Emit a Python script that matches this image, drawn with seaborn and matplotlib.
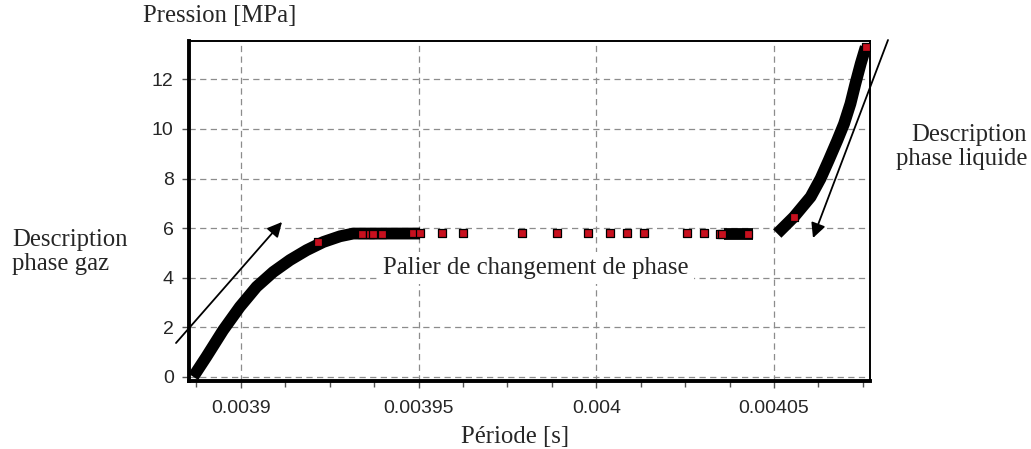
import numpy as np
import pandas as pd
import matplotlib
matplotlib.use("Agg")
import matplotlib.pyplot as plt
import seaborn as sns
from matplotlib.ticker import MultipleLocator

# ---- data ----
# gas phase curve (dense points -> black band), ends on the plateau
gas_t = [0.0038866, 0.0038903, 0.0038950, 0.0038997, 0.0039044, 0.0039091,
         0.0039138, 0.0039185, 0.0039232, 0.0039279, 0.0039316, 0.0039504]
gas_p = [0.0, 0.81, 1.88, 2.82, 3.63, 4.23, 4.71, 5.11, 5.44, 5.67, 5.78, 5.78]

# dense segment at the end of the plateau
dense_t = [0.0040360, 0.0040440]
dense_p = [5.78, 5.78]

# liquid phase curve
liq_t = [0.0040509, 0.0040556, 0.0040603, 0.0040631, 0.0040654, 0.0040678,
         0.0040697, 0.0040715, 0.0040729, 0.0040744, 0.0040758]
liq_p = [5.78, 6.45, 7.26, 8.0, 8.74, 9.54, 10.21, 11.02, 11.83, 12.64, 13.31]

# isolated / visible red points
pts_t = [0.0039217, 0.0039341, 0.0039363, 0.0039372, 0.0039397,
         0.0039485, 0.0039504, 0.0039566, 0.0039625, 0.0039792, 0.0039890,
         0.0039977, 0.0040039, 0.0040087, 0.0040135, 0.0040256, 0.0040304,
         0.0040348, 0.0040353, 0.0040428, 0.0040556, 0.0040758]
pts_p = [5.44, 5.78, 5.78, 5.78, 5.78,
         5.8, 5.8, 5.8, 5.8, 5.8, 5.8,
         5.8, 5.8, 5.8, 5.8, 5.8, 5.8,
         5.78, 5.78, 5.78, 6.45, 13.31]

y_ticks = [0, 2, 4, 6, 8, 10, 12]
x_ticks = [0.0039, 0.00395, 0.004, 0.00405]
x_tick_labels = ["0.0039", "0.00395", "0.004", "0.00405"]

W, H = 1031, 449
sns.set_style("white")
plt.rcParams["font.family"] = ["Liberation Serif", "DejaVu Serif"]

fig = plt.figure(figsize=(W / 100, H / 100), dpi=100)
ax = fig.add_axes([189 / W, 1 - 381 / H, (870 - 189) / W, (381 - 41) / H])

gas = pd.DataFrame({"t": gas_t, "p": gas_p})
dense = pd.DataFrame({"t": dense_t, "p": dense_p})
liq = pd.DataFrame({"t": liq_t, "p": liq_p})
pts = pd.DataFrame({"t": pts_t, "p": pts_p})

for d in (gas, dense, liq):
    sns.lineplot(data=d, x="t", y="p", ax=ax, sort=False, estimator=None,
                 color="black", linewidth=8.5, solid_capstyle="butt",
                 solid_joinstyle="round", zorder=3)
sns.scatterplot(data=pts, x="t", y="p", ax=ax, marker="s", s=40,
                color="#c8101e", edgecolor="black", linewidth=0.9, zorder=4)

ax.set_xlim(0.0038854, 0.004077)
ax.set_ylim(-0.17, 13.55)
ax.set_xticks(x_ticks)
ax.set_xticklabels(x_tick_labels)
ax.set_yticks(y_ticks)
ax.xaxis.set_minor_locator(MultipleLocator(0.0000125))

ax.grid(True, which="major", color="#8c8c8c", linewidth=0.9,
        linestyle=(0, (5, 3.5)))
ax.set_axisbelow(True)

for lab in ax.get_xticklabels() + ax.get_yticklabels():
    lab.set_family(["Liberation Sans", "DejaVu Sans"])
    lab.set_fontsize(14)
    lab.set_color("#262626")
ax.tick_params(axis="both", which="major", direction="out", length=5,
               width=1, color="#555555", bottom=True, left=True)
ax.tick_params(axis="x", which="major", pad=9)
ax.tick_params(axis="y", which="major", pad=6)
ax.tick_params(axis="x", which="minor", direction="out", length=4,
               width=1, color="#555555", bottom=True)

ax.spines["left"].set_linewidth(2.8)
ax.spines["bottom"].set_linewidth(2.8)
ax.spines["top"].set_linewidth(1.4)
ax.spines["right"].set_linewidth(1.4)
for s in ax.spines.values():
    s.set_color("black")
    s.set_visible(True)

ax.set_xlabel("Période [s]", fontsize=17.8)
ax.xaxis.set_label_coords((515 - 189) / 681, (381 - 437) / 340)
ax.xaxis.label.set_va("center")
ax.set_ylabel("Pression [MPa]", fontsize=17.8, rotation=0, ha="left", va="center")
ax.yaxis.set_label_coords((143 - 189) / 681, (381 - 16) / 340)


def fx(px):
    return px / W


def fy(py):
    return 1 - py / H


fig.text(fx(536), fy(268), "Palier de changement de phase", fontsize=17.8,
         ha="center", va="center", zorder=10,
         bbox=dict(facecolor="white", edgecolor="none", pad=4))
fig.text(fx(12), fy(252), "Description\nphase gaz", fontsize=17.8,
         ha="left", va="center", linespacing=1.1)
fig.text(fx(1027), fy(147), "Description\nphase liquide", fontsize=17.8,
         ha="right", va="center", multialignment="right", linespacing=1.1)

arrow = dict(arrowstyle="-|>", mutation_scale=22, lw=1.3, color="black",
             shrinkA=0, shrinkB=0)
ax.annotate("", xy=(fx(282), fy(222)), xycoords="figure fraction",
            xytext=(fx(176), fy(343)), textcoords="figure fraction",
            arrowprops=arrow, annotation_clip=False, zorder=10)
ax.annotate("", xy=(fx(813), fy(238)), xycoords="figure fraction",
            xytext=(fx(888), fy(40)), textcoords="figure fraction",
            arrowprops=arrow, annotation_clip=False, zorder=10)

fig.savefig("out.png", dpi=100)
